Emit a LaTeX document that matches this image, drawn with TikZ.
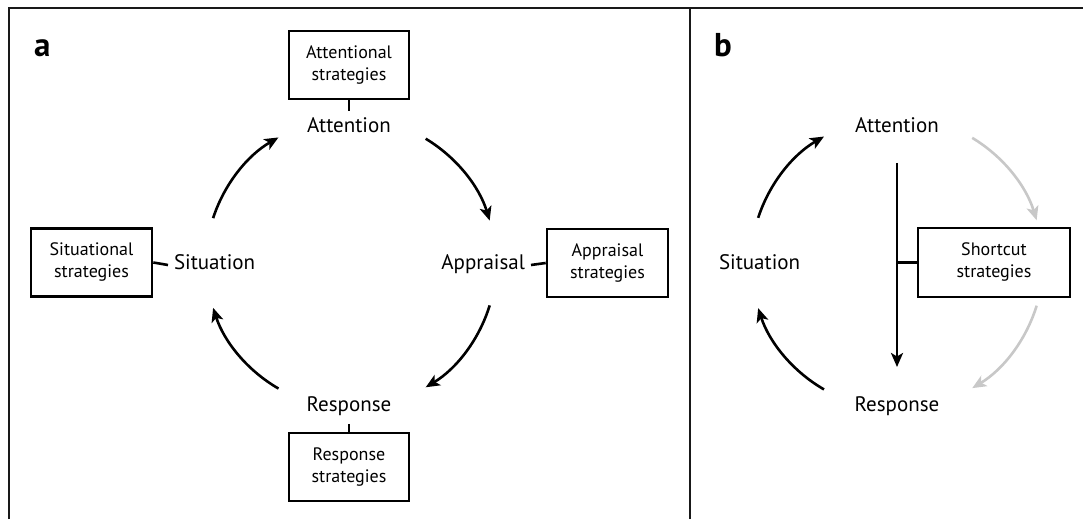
\documentclass[tikz,border=0pt]{standalone}
\usepackage{fontspec}
\setmainfont{PT Sans}
\usetikzlibrary{arrows.meta}
\definecolor{lightgrey}{RGB}{200,200,200}
\begin{document}
\begin{tikzpicture}[x=1pt,y=1pt,
  frame/.style={line width=2.6pt,draw=black!90},
  stratbox/.style={draw,line width=2.6pt,minimum height=68pt,inner sep=2pt,align=center,
    font=\fontsize{18}{22}\selectfont},
  stage/.style={inner sep=0pt,outer xsep=6pt,outer ysep=8pt,text height=14pt,text depth=4pt,
    font=\fontsize{21}{24}\selectfont,anchor=base},
  panel/.style={inner sep=0pt,anchor=base west,font=\fontsize{33}{33}\selectfont\bfseries},
  tick/.style={line width=2.6pt},
  cyc/.style={line width=2.6pt,-{Stealth[length=14pt,width=12pt,inset=3.5pt]}},
  faded/.style={cyc,draw=lightgrey}]
\useasboundingbox (0,0) rectangle (1083,519);

% outer frame and panel divider
\draw[frame] (9,0) -- (9,511) -- (1083,511);
\draw[frame] (690,0) -- (690,511);

% ---------- panel a ----------
\node[panel] (la) at (34,462) {a};
\coordinate (ca) at (351,256);

\node[stage] (att)  at (349,386) {Attention};
\node[stage,anchor=base east] (app) at (531,249) {Appraisal};
\node[stage,anchor=base west] (sit) at (168,249) {Situation};
\node[stage] (resp) at (349,107) {Response};

\node[stratbox,minimum width=120pt] (attbox)  at (349,454) {Attentional\\strategies};
\node[stratbox,minimum width=121pt] (appbox)  at (607.5,256) {Appraisal\\strategies};
\node[stratbox,minimum width=121pt] (sitbox)  at (91.5,256.5) {Situational\\strategies};
\node[stratbox,minimum width=120pt] (respbox) at (349,52) {Response\\strategies};

\draw[tick] (attbox.south) -- (att.north);
\draw[tick] (app.east) -- (appbox.west);
\draw[tick] (sitbox.east) -- (sit.west);
\draw[tick] (resp.south) -- (respbox.north);

\path (ca) ++(162:145pt) coordinate (a1);
\path (ca) ++(59:145pt)  coordinate (a2);
\path (ca) ++(-17:145pt) coordinate (a3);
\path (ca) ++(-120:145pt) coordinate (a4);
\draw[cyc] (a1) arc[start angle=162,end angle=120,radius=145pt];
\draw[cyc] (a2) arc[start angle=59,end angle=17,radius=145pt];
\draw[cyc] (a3) arc[start angle=-17,end angle=-59,radius=145pt];
\draw[cyc] (a4) arc[start angle=-120,end angle=-162,radius=145pt];

% ---------- panel b ----------
\node[panel] (lb) at (714,462) {b};
\coordinate (cb) at (897,256);

\node[stage] (batt)  at (897,386) {Attention};
\node[stage,anchor=base west] (bsit) at (713,249) {Situation};
\node[stage] (bresp) at (897,107) {Response};

\node[stratbox,minimum width=152pt,minimum height=69pt] (shortbox) at (994,256.5) {Shortcut\\strategies};

\path (cb) ++(162:146pt) coordinate (b1);
\path (cb) ++(59:146pt)  coordinate (b2);
\path (cb) ++(-17:146pt) coordinate (b3);
\path (cb) ++(-120:146pt) coordinate (b4);
\draw[cyc]   (b1) arc[start angle=162,end angle=120,radius=146pt];
\draw[faded] (b2) arc[start angle=59,end angle=17,radius=146pt];
\draw[faded] (b3) arc[start angle=-17,end angle=-59,radius=146pt];
\draw[cyc]   (b4) arc[start angle=-120,end angle=-162,radius=146pt];

% shortcut from attention straight to response
\coordinate (vtop) at (897,356);
\coordinate (vbot) at (897,152);
\draw[cyc] (vtop) -- (vbot);
\draw[tick] (shortbox.west) -- (shortbox.west -| vtop);
\end{tikzpicture}
\end{document}
